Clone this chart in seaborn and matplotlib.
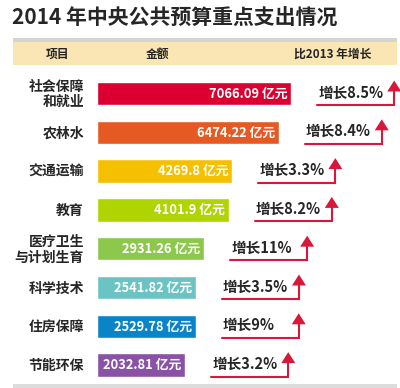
import numpy as np
import pandas as pd
import matplotlib
matplotlib.use('Agg')
import matplotlib.pyplot as plt
from matplotlib.patches import Rectangle, Polygon
import seaborn as sns

# ============================================================
# Data
# ============================================================

TITLE = '2014 年中央公共预算重点支出情况'
HEADERS = ['项目', '金额', '比2013 年增长']

ITEMS = ['社会保障\n和就业', '农林水', '交通运输', '教育',
         '医疗卫生\n与计划生育', '科学技术', '住房保障', '节能环保']
AMOUNTS = [7066.09, 6474.22, 4269.8, 4101.9, 2931.26, 2541.82, 2529.78, 2032.81]
GROWTH = [8.5, 8.4, 3.3, 8.2, 11, 3.5, 9, 3.2]
COLORS = ['#DC0030', '#E45A22', '#F5C000', '#AFD400',
          '#8CC84B', '#6CC3C3', '#0A84C8', '#8A52A6']

# ============================================================
# Layout (pixels, 400x388 canvas)
# ============================================================

W, H = 400, 388
BAR_PAD = 2160          # bars in the original start with a fixed stub
PX_PER_UNIT = 0.02105
AX_LEFT, AX_TOP, ROW_PX = 97, 74.1, 38.8
AX_W = W - AX_LEFT
XMAX = AX_W / PX_PER_UNIT
RED = '#D9173A'

sns.set_style('white')
plt.rcParams['font.family'] = ['Noto Sans CJK SC', 'DejaVu Sans']

fig = plt.figure(figsize=(W / 100, H / 100), dpi=100)
fig.patch.set_facecolor('white')

n = len(ITEMS)
ax_h = n * ROW_PX
ax = fig.add_axes([AX_LEFT / W, (H - AX_TOP - ax_h) / H, AX_W / W, ax_h / H])
ax.patch.set_alpha(0)

df = pd.DataFrame({'item': ITEMS, 'bar': np.array(AMOUNTS) + BAR_PAD})
sns.barplot(data=df, x='bar', y='item', hue='item', palette=COLORS,
            legend=False, width=0.6, saturation=1, orient='h', ax=ax)
ax.set_xlim(0, XMAX)
ax.set_ylim(n - 0.5, -0.5)
ax.axis('off')

# overlay in pixel coordinates, drawn above the bars
over = fig.add_axes([0, 0, 1, 1])
over.set_xlim(0, W)
over.set_ylim(H, 0)
over.patch.set_alpha(0)
over.axis('off')
over.set_zorder(ax.get_zorder() + 1)

# title + header band
over.text(12, 18, TITLE, fontsize=15, fontweight='heavy', va='center', ha='left')
over.add_patch(Rectangle((13, 37.7), 384, 4, color='#D4D4D4', lw=0))
over.add_patch(Rectangle((13, 41.7), 384, 23.5, color='#FAE6B4', lw=0))
for x, h in zip([58, 158, 333], HEADERS):
    over.text(x, 54, h, fontsize=8.5, fontweight='bold', ha='center', va='center')
over.add_patch(Rectangle((13, 384), 384, 4, color='#DCDCDC', lw=0))

# rows
for i, (item, amt, g) in enumerate(zip(ITEMS, AMOUNTS, GROWTH)):
    xd, yd = ax.transData.transform((amt + BAR_PAD, i))
    px, py = xd, H - yd

    over.text(84, py + 1, item, fontsize=10, fontweight='bold', ha='right',
              va='center', multialignment='right', linespacing=1.15)
    over.text(px - 4, py, f'{amt:g} 亿元', fontsize=9.3, fontweight='bold',
              color='white', ha='right', va='center')

    tx = px + 27
    arrow_x = tx + 76
    over.text(tx, py - 1, f'增长{g:g}%', fontsize=10.5, fontweight='bold',
              ha='left', va='center')
    over.plot([tx - 1, arrow_x, arrow_x], [py + 11.5, py + 11.5, py - 3],
              color=RED, lw=1.5, solid_joinstyle='miter')
    over.add_patch(Polygon([(arrow_x - 7, py - 2), (arrow_x + 7, py - 2),
                            (arrow_x, py - 13)], closed=True, color=RED, lw=0))

fig.savefig('out.png', dpi=100)
plt.close(fig)
